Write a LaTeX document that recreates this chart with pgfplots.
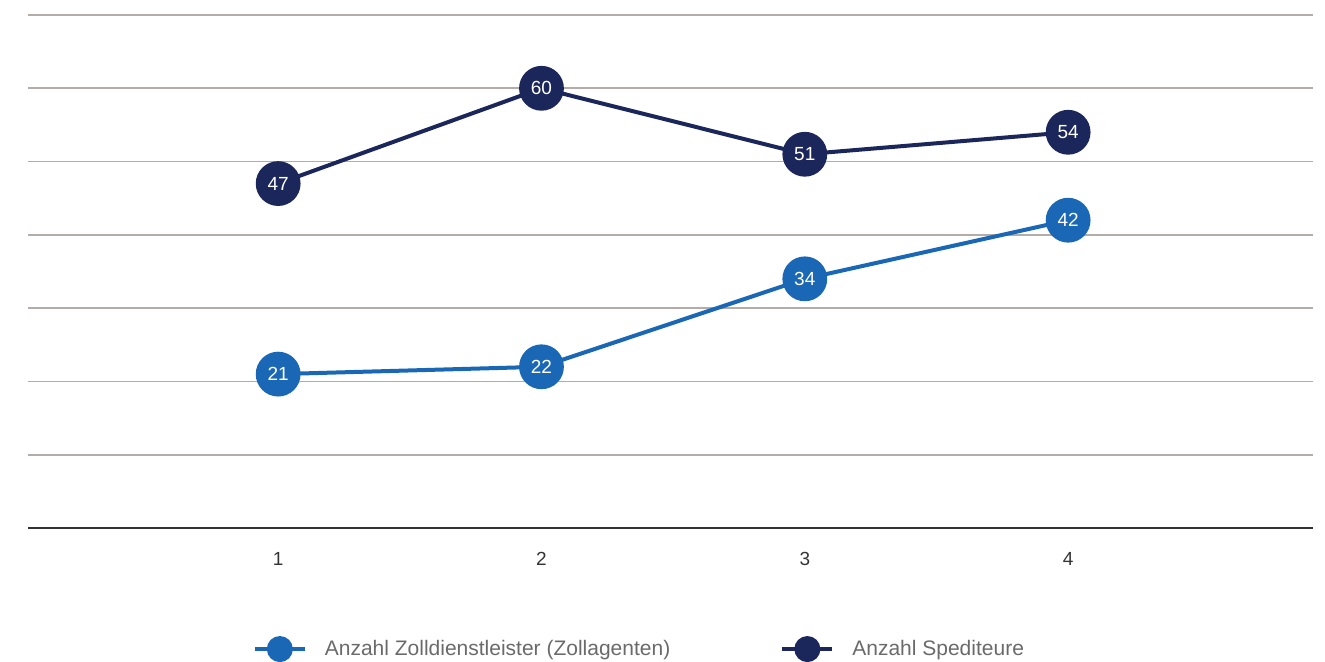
\documentclass[border=0pt]{standalone}
\usepackage{pgfplots}
\pgfplotsset{compat=1.18}
\usepackage{fontspec}
\setmainfont{Liberation Sans}
\definecolor{lblue}{HTML}{1A67B5}
\definecolor{navy}{HTML}{1B275A}
\definecolor{gridc}{HTML}{B3ACA9}
\definecolor{axc}{HTML}{333333}
\definecolor{txt}{HTML}{333333}
\definecolor{legt}{HTML}{6A6A6A}
\begin{document}
\begin{tikzpicture}
\useasboundingbox (-14pt,-66.5pt) rectangle (648.5pt,264pt);
\begin{axis}[
  at={(0,0)}, anchor=south west,
  scale only axis,
  width=642.5pt, height=256.5pt,
  xmin=0.05, xmax=4.93,
  ymin=0, ymax=70,
  xtick={1,2,3,4},
  ytick={10,20,30,40,50,60,70},
  yticklabels={},
  ymajorgrids,
  grid style={gridc, line width=0.8pt},
  axis x line*=bottom,
  axis y line*=left,
  y axis line style={draw=none},
  x axis line style={axc, line width=1.4pt, -},
  major tick length=0pt,
  tick style={draw=none},
  xticklabel style={font=\fontsize{9.5}{10}\selectfont, text=txt, yshift=-8.5pt},
  /pgf/number format/assume math mode=true,
  clip=false,
  nodes near coords,
  every node near coord/.append style={anchor=center, text=white, font=\fontsize{9.5}{10}\selectfont},
  legend columns=2,
  legend style={at={(0.17,-0.236)}, anchor=west, draw=none, fill=none,
    font=\fontsize{10.5}{12}\selectfont, text=legt,
    /tikz/every odd column/.append style={column sep=7pt},
    /tikz/every even column/.append style={column sep=53pt}},
  legend image code/.code={
    \draw[#1, line width=2pt] (0pt,0pt) -- (25pt,0pt);
    \fill[#1] (12.5pt,0pt) circle (5.5pt);
  },
]
\addplot[lblue, line width=2pt, mark=*, mark size=10.2pt, mark options={fill=lblue, draw=lblue}]
  coordinates {(1,21) (2,22) (3,34) (4,42)};
\addlegendentry{Anzahl Zolldienstleister (Zollagenten)}
\addplot[navy, line width=2pt, mark=*, mark size=10.2pt, mark options={fill=navy, draw=navy}]
  coordinates {(1,47) (2,60) (3,51) (4,54)};
\addlegendentry{Anzahl Spediteure}
\end{axis}
\end{tikzpicture}
\end{document}
